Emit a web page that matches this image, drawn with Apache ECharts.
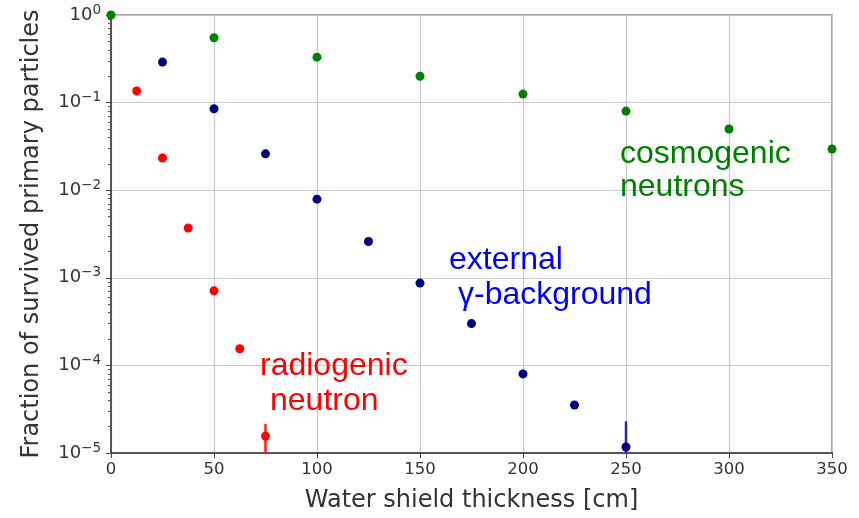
<!DOCTYPE html>
<html><head><meta charset="utf-8">
<script src="https://cdn.jsdelivr.net/npm/echarts@6/dist/echarts.min.js"></script>
<style>html,body{margin:0;padding:0;background:#fff}#c{width:859px;height:518px}</style>
</head><body><div id="c"></div>
<script>
const cosmoX = [0, 50, 100, 150, 200, 250, 300, 350];
const cosmoY = [1.0, 0.55, 0.33, 0.20, 0.125, 0.080, 0.050, 0.0295];
const gammaX = [25, 50, 75, 100, 125, 150, 175, 200, 225, 250];
const gammaY = [0.29, 0.085, 0.026, 0.0079, 0.0026, 0.00087, 0.0003, 0.00008, 0.0000353, 0.0000117];
const radioX = [12.5, 25, 37.5, 50, 62.5, 75];
const radioY = [0.136, 0.0233, 0.0037, 0.00071, 0.000155, 0.0000156];
const gammaErr = [[250, 0.00001, 0.000023]];
const radioErr = [[75, 0.00001, 0.0000215]];
const yMinorTicks = [
  0.00002, 0.00003, 0.00004, 0.00005, 0.00006, 0.00007, 0.00008, 0.00009,
  0.0002, 0.0003, 0.0004, 0.0005, 0.0006, 0.0007, 0.0008, 0.0009,
  0.002, 0.003, 0.004, 0.005, 0.006, 0.007, 0.008, 0.009,
  0.02, 0.03, 0.04, 0.05, 0.06, 0.07, 0.08, 0.09,
  0.2, 0.3, 0.4, 0.5, 0.6, 0.7, 0.8, 0.9
];
const supMap = {'0':'0','-1':'−1','-2':'−2','-3':'−3','-4':'−4','-5':'−5'};

const chart = echarts.init(document.getElementById('c'), null, {renderer: 'canvas'});
function pairs(xs, ys) { return xs.map((x, i) => [x, ys[i]]); }
function errSeries(data, color) {
  return {
    type: 'custom', data: data, clip: true, z: 2,
    renderItem: function (params, api) {
      const p1 = api.coord([api.value(0), api.value(1)]);
      const p2 = api.coord([api.value(0), api.value(2)]);
      return {type: 'line', shape: {x1: p1[0], y1: p1[1], x2: p2[0], y2: p2[1]},
              style: {stroke: color, lineWidth: 2.5}};
    }
  };
}
function note(text, x, y, color) {
  return {type: 'text', x: x, y: y, z: 10,
          style: {text: text, fill: color, font: '32px "Liberation Sans"', verticalAlign: 'middle', align: 'left'}};
}
const option = {
  animation: false,
  grid: {left: 111, right: 27, top: 15, bottom: 65, show: true, borderColor: '#888', borderWidth: 1.5},
  xAxis: {
    type: 'value', min: 0, max: 350, interval: 50,
    name: 'Water shield thickness [cm]', nameLocation: 'middle', nameGap: 36,
    nameTextStyle: {fontFamily: 'DejaVu Sans', fontSize: 24, color: '#333'},
    axisLine: {show: true, lineStyle: {color: '#555', width: 2}},
    axisTick: {show: true, length: 5, lineStyle: {color: '#444'}},
    axisLabel: {fontFamily: 'DejaVu Sans', fontSize: 16.5, color: '#333', margin: 8},
    splitLine: {show: true, lineStyle: {color: '#c8c8c8', width: 1.2}}
  },
  yAxis: [{
    type: 'log', logBase: 10, min: 0.00001, max: 1,
    name: 'Fraction of survived primary particles', nameLocation: 'middle', nameGap: 67,
    nameTextStyle: {fontFamily: 'DejaVu Sans', fontSize: 24, color: '#333'},
    axisLine: {show: true, lineStyle: {color: '#555', width: 2}},
    axisTick: {show: true, length: 5, lineStyle: {color: '#444'}},
    axisLabel: {
      margin: 10,
      formatter: function (v) {
        const e = Math.round(Math.log10(v));
        return '{b|10}{s|' + supMap[String(e)] + '}';
      },
      rich: {
        b: {fontFamily: 'DejaVu Sans', fontSize: 18, color: '#333'},
        s: {fontFamily: 'DejaVu Sans', fontSize: 13.5, color: '#333', padding: [0, 0, 10, 0]}
      }
    },
    splitLine: {show: true, lineStyle: {color: '#c8c8c8', width: 1.2}}
  }, {
    type: 'log', logBase: 10, min: 0.00001, max: 1, position: 'left',
    axisLine: {show: false},
    axisTick: {show: true, length: 3, customValues: yMinorTicks, lineStyle: {color: '#555'}},
    axisLabel: {show: false},
    splitLine: {show: false}
  }],
  series: [
    errSeries(gammaErr, '#2a2aa0'),
    errSeries(radioErr, '#ff2020'),
    {type: 'scatter', data: pairs(cosmoX, cosmoY), symbolSize: 9, itemStyle: {color: '#008000', opacity: 1}, z: 3, clip: true},
    {type: 'scatter', data: pairs(gammaX, gammaY), symbolSize: 9, itemStyle: {color: '#000080', opacity: 1}, z: 3, clip: true},
    {type: 'scatter', data: pairs(radioX, radioY), symbolSize: 9, itemStyle: {color: '#ff0000', opacity: 1}, z: 3, clip: true}
  ],
  graphic: [
    note('cosmogenic', 620, 154, '#008000'),
    note('neutrons', 620, 187, '#008000'),
    note('external', 449, 260, '#0000ff'),
    note('γ-background', 458, 295, '#0000ff'),
    note('radiogenic', 260, 366, '#ff0000'),
    note('neutron', 270, 401, '#ff0000')
  ]
};
chart.setOption(option);
</script></body></html>
